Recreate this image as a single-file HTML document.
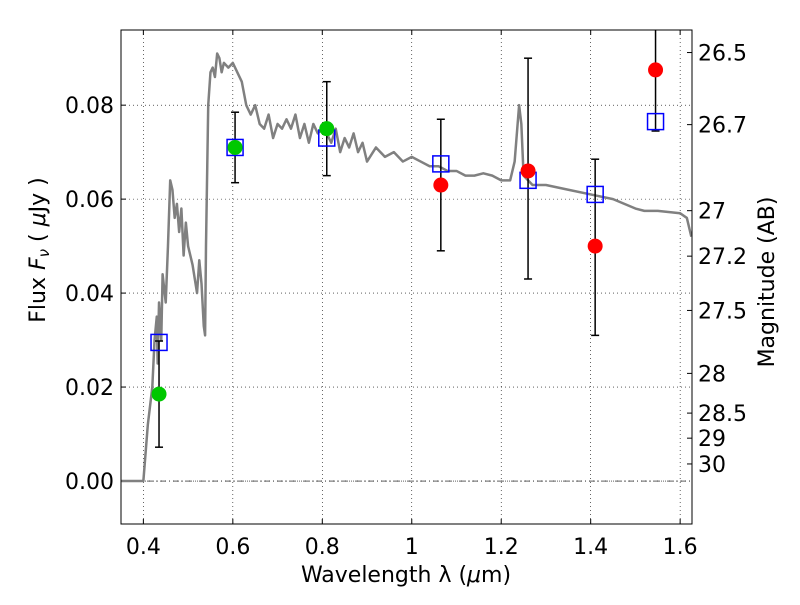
<!DOCTYPE html>
<html><head><meta charset="utf-8"><style>
body{margin:0;background:#fff;width:800px;height:600px;overflow:hidden}
text{font-family:"DejaVu Sans","Liberation Sans",sans-serif}
</style></head><body>
<svg id="chart" width="800" height="600" xmlns="http://www.w3.org/2000/svg"></svg>
<script>
const specX=[0.35,0.4,0.41,0.42,0.425,0.43,0.432,0.435,0.44,0.443,0.45,0.455,0.46,0.465,0.47,0.475,0.48,0.485,0.49,0.495,0.5,0.51,0.52,0.525,0.53,0.535,0.538,0.54,0.545,0.55,0.555,0.56,0.565,0.57,0.575,0.58,0.59,0.6,0.61,0.62,0.63,0.64,0.65,0.66,0.67,0.68,0.69,0.7,0.71,0.72,0.73,0.74,0.75,0.76,0.77,0.78,0.79,0.8,0.81,0.82,0.83,0.84,0.85,0.86,0.87,0.88,0.89,0.9,0.92,0.94,0.96,0.98,1.0,1.02,1.04,1.06,1.08,1.1,1.12,1.14,1.16,1.18,1.2,1.22,1.23,1.24,1.245,1.25,1.27,1.3,1.35,1.4,1.45,1.5,1.52,1.55,1.6,1.615,1.625];
const specY=[0,0,0.012,0.02,0.03,0.035,0.025,0.038,0.03,0.044,0.038,0.05,0.064,0.062,0.056,0.059,0.053,0.058,0.048,0.055,0.05,0.046,0.04,0.047,0.042,0.033,0.031,0.05,0.08,0.087,0.088,0.086,0.091,0.09,0.087,0.089,0.088,0.089,0.087,0.085,0.08,0.078,0.08,0.076,0.075,0.078,0.073,0.076,0.075,0.077,0.075,0.078,0.073,0.076,0.072,0.076,0.074,0.075,0.074,0.072,0.075,0.07,0.073,0.071,0.074,0.07,0.072,0.068,0.071,0.069,0.07,0.068,0.069,0.068,0.067,0.067,0.066,0.066,0.065,0.065,0.0655,0.065,0.064,0.064,0.068,0.08,0.076,0.065,0.063,0.063,0.062,0.061,0.06,0.058,0.0575,0.0575,0.057,0.056,0.052];
const modelX=[0.435,0.605,0.81,1.065,1.26,1.41,1.545];
const modelY=[0.0295,0.071,0.073,0.0675,0.064,0.061,0.0765];
const obsX=[0.435,0.605,0.81,1.065,1.26,1.41,1.545];
const obsY=[0.0185,0.071,0.075,0.063,0.066,0.05,0.0875];
const obsLo=[0.0072,0.0635,0.065,0.049,0.043,0.031,0.0745];
const obsHi=[0.0298,0.0785,0.085,0.077,0.09,0.0685,0.1];
const obsColor=['#00c800','#00c800','#00c800','red','red','red','red'];
const xTicks=[0.4,0.6,0.8,1.0,1.2,1.4,1.6];
const xTickLabels=['0.4','0.6','0.8','1','1.2','1.4','1.6'];
const yTicks=[0,0.02,0.04,0.06,0.08];
const yTickLabels=['0.00','0.02','0.04','0.06','0.08'];
const magTicks=[26.5,26.7,27,27.2,27.5,28,28.5,29,30];
const magLabels=['26.5','26.7','27','27.2','27.5','28','28.5','29','30'];

const L=121,R=692,T=30,B=524,x0=0.35,x1=1.6265,y0=-0.00915,y1=0.096;
const sx=v=>L+(v-x0)/(x1-x0)*(R-L);
const sy=v=>B-(v-y0)/(y1-y0)*(B-T);
const svg=document.getElementById('chart');
const NS='http://www.w3.org/2000/svg';
function mk(tag,attrs,parent){const e=document.createElementNS(NS,tag);for(const k in attrs)e.setAttribute(k,attrs[k]);(parent||svg).appendChild(e);return e;}
const defs=mk('defs',{});const cp=mk('clipPath',{id:'c'},defs);mk('rect',{x:L,y:T,width:R-L,height:B-T},cp);
xTicks.forEach((t,i)=>{const g=mk('line',{x1:sx(t),x2:sx(t),y1:T,y2:B,stroke:'#000','stroke-width':0.6,'stroke-dasharray':'1,3'});

const tk=mk('line',{x1:sx(t),x2:sx(t),y1:B,y2:B-5,stroke:'#000'});
const tk2=mk('line',{x1:sx(t),x2:sx(t),y1:T,y2:T+5,stroke:'#000'});
const tx=mk('text',{x:sx(t),y:B+30,'font-size':22,'text-anchor':'middle'});tx.textContent=xTickLabels[i];});
yTicks.forEach((t,i)=>{const g=mk('line',{x1:L,x2:R,y1:sy(t),y2:sy(t),stroke:'#000','stroke-width':0.6,'stroke-dasharray':'1,3'});

const tk=mk('line',{x1:L,x2:L+5,y1:sy(t),y2:sy(t),stroke:'#000'});
const tx=mk('text',{x:L-7,y:sy(t)+8,'font-size':22,'text-anchor':'end'});tx.textContent=yTickLabels[i];});
magTicks.forEach((m,i)=>{const f=Math.pow(10,(23.9-m)/2.5);const y=sy(f);
const tk=mk('line',{x1:R-5,x2:R,y1:y,y2:y,stroke:'#000'});
const tx=mk('text',{x:R+6,y:y+8,'font-size':22});tx.textContent=magLabels[i];});
const zl=mk('line',{x1:L,x2:R,y1:sy(0),y2:sy(0),stroke:'#000','stroke-width':0.6,'stroke-dasharray':'6,3,1,3'});

const sp=mk('polyline',{points:specX.map((x,i)=>sx(x)+','+sy(specY[i])).join(' '),fill:'none',stroke:'#808080','stroke-width':2.5,'stroke-linejoin':'round','clip-path':'url(#c)'});

obsX.forEach((x,i)=>{const X=sx(x),hi=Math.min(obsHi[i],y1);
const e=mk('line',{x1:X,x2:X,y1:sy(obsLo[i]),y2:sy(hi),stroke:'#000','stroke-width':1.5,'clip-path':'url(#c)'});
[obsLo[i]].concat(obsHi[i]<=y1?[obsHi[i]]:[]).forEach(v=>{const c=mk('line',{x1:X-4,x2:X+4,y1:sy(v),y2:sy(v),stroke:'#000','stroke-width':1.5});});
});
modelX.forEach((x,i)=>{const r=mk('rect',{x:sx(x)-8,y:sy(modelY[i])-8,width:16,height:16,fill:'none',stroke:'#0000ff','stroke-width':1.5});
});
obsX.forEach((x,i)=>{const c=mk('circle',{cx:sx(x),cy:sy(obsY[i]),r:7.5,fill:obsColor[i]});
});
const fr=mk('rect',{x:L,y:T,width:R-L,height:B-T,fill:'none',stroke:'#000','stroke-width':1});

const xt=mk('text',{x:406,y:582,'font-size':22,'text-anchor':'middle'});xt.innerHTML='Wavelength  λ (<tspan font-style="italic">μ</tspan>m)';

const yt=mk('text',{x:0,y:0,'font-size':22,'text-anchor':'middle',transform:'translate(45,250) rotate(-90)'});yt.innerHTML='Flux  <tspan font-style="italic">F</tspan><tspan font-style="italic" font-size="15" dy="4">ν</tspan><tspan dy="-4">  (  </tspan><tspan font-style="italic">μ</tspan>Jy )';

const rt=mk('text',{x:0,y:0,'font-size':22,'text-anchor':'middle',transform:'translate(774,282) rotate(-90)'});rt.textContent='Magnitude (AB)';

</script>
</body></html>
